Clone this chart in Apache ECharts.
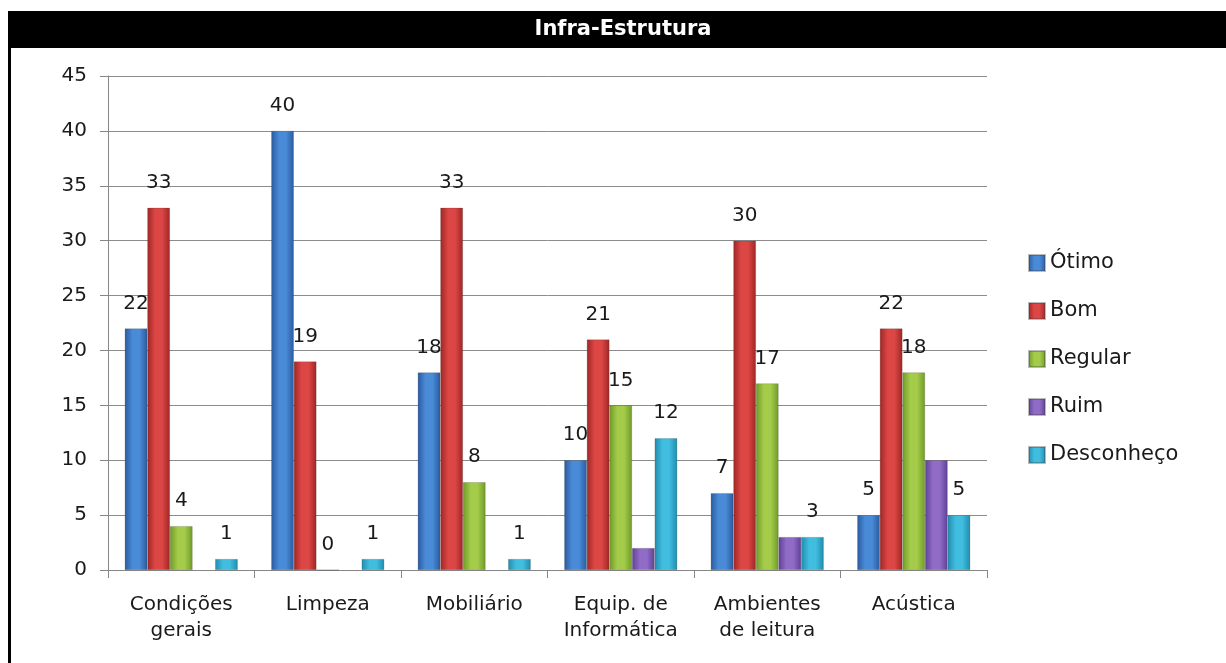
<!DOCTYPE html>
<html>
<head>
<meta charset="utf-8">
<script src="https://cdn.jsdelivr.net/npm/echarts@6/dist/echarts.min.js"></script>
<style>
html,body{margin:0;padding:0;background:#fff;}
#chart{width:1226px;height:663px;}
</style>
</head>
<body>
<div id="chart"></div>
<script>
const categories = ['Condições\ngerais', 'Limpeza', 'Mobiliário', 'Equip. de\nInformática', 'Ambientes\nde leitura', 'Acústica'];
const otimo      = [22, 40, 18, 10, 7, 5];
const bom        = [33, 19, 33, 21, 30, 22];
const regular    = [4, 0, 8, 15, 17, 18];
const ruim       = [null, null, null, 2, 3, 10];
const desconheco = [1, 1, 1, 12, 3, 5];
const seriesNames = ['Ótimo', 'Bom', 'Regular', 'Ruim', 'Desconheço'];
const yTicks = [0, 5, 10, 15, 20, 25, 30, 35, 40, 45];

const FONT = 'DejaVu Sans';
const palette = [
  {mid:'#4a8bd8', edge:'#2a5b9e', legend:'#3a78c6'},
  {mid:'#dc4745', edge:'#9e2624', legend:'#cc3b38'},
  {mid:'#a4cc4a', edge:'#6e9a28', legend:'#92bf3f'},
  {mid:'#916cc6', edge:'#5f4096', legend:'#7f5bb4'},
  {mid:'#40bddf', edge:'#218cae', legend:'#35aacd'}
];
function grad(p){
  return new echarts.graphic.LinearGradient(0,0,1,0,[
    {offset:0, color:p.edge},
    {offset:0.35, color:p.mid},
    {offset:0.65, color:p.mid},
    {offset:1, color:p.edge}
  ]);
}
const allData = [otimo, bom, regular, ruim, desconheco];
const series = allData.map((d,i)=>({
  name: seriesNames[i],
  type: 'bar',
  data: d,
  barWidth: 22.6,
  barGap: '0%',
  itemStyle: {color: grad(palette[i]), borderColor: 'rgba(60,60,60,0.35)', borderWidth: 0.6},
  label: {
    show: i !== 3,
    position: 'top',
    distance: 15,
    fontFamily: FONT,
    fontSize: 20,
    color: '#1a1a1a'
  },
  emphasis: {disabled: true}
}));

const chart = echarts.init(document.getElementById('chart'), null, {renderer:'canvas'});
chart.setOption({
  animation: false,
  color: palette.map(p=>p.legend),
  graphic: [
    {type:'rect', shape:{x:8, y:11, width:1226, height:37}, style:{fill:'#000'}, z:0},
    {type:'rect', shape:{x:8, y:11, width:3, height:652}, style:{fill:'#000'}, z:0},
    {type:'text', x:623, y:30, style:{text:'Infra-Estrutura', fill:'#fff', font:'bold 21px "DejaVu Sans"', textAlign:'center', textVerticalAlign:'middle'}, z:1}
  ],
  grid: {left:108, right:239, top:76, bottom:93, containLabel:false},
  legend: {
    orient: 'vertical',
    left: 1028,
    top: 252,
    padding: 0,
    itemWidth: 16,
    itemHeight: 16,
    itemGap: 26,
    icon: 'rect',
    textStyle: {fontFamily: FONT, fontSize: 21, color:'#1a1a1a', lineHeight: 22},
    data: seriesNames
  },
  xAxis: {
    type: 'category',
    data: categories,
    axisLine: {lineStyle:{color:'#868686', width:1}},
    axisTick: {show:true, length:8, interval:0, lineStyle:{color:'#868686'}},
    axisLabel: {interval:0, fontFamily: FONT, fontSize: 20, color:'#1a1a1a', margin: 22, lineHeight: 26}
  },
  yAxis: {
    type: 'value',
    min: yTicks[0],
    max: yTicks[yTicks.length-1],
    interval: 5,
    axisLine: {show:true, lineStyle:{color:'#868686'}},
    axisTick: {show:true, length:8, lineStyle:{color:'#868686'}},
    splitLine: {lineStyle:{color:'#8c8c8c', width:1}},
    axisLabel: {fontFamily: FONT, fontSize: 20, color:'#1a1a1a', margin: 21}
  },
  series: series
});
</script>
</body>
</html>
